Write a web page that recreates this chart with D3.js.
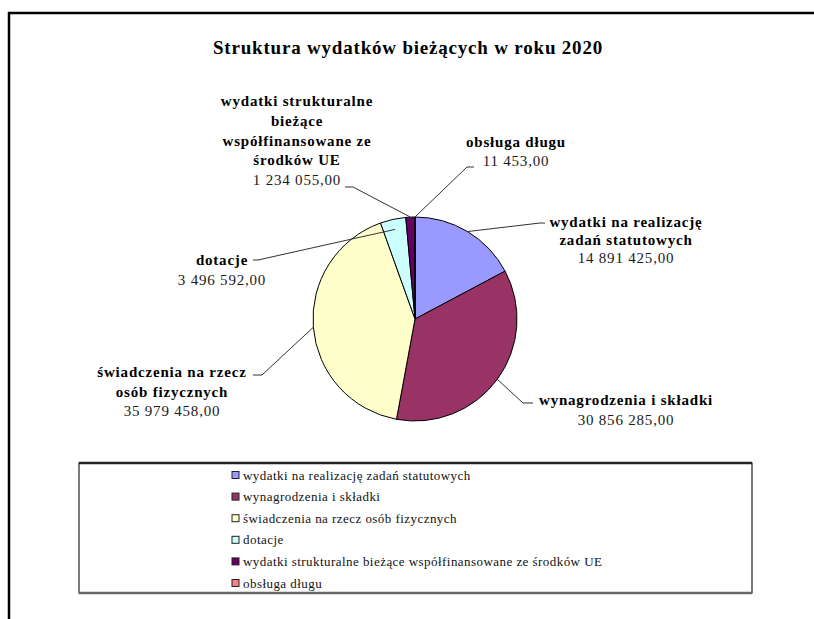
<!DOCTYPE html>
<html><head><meta charset="utf-8">
<script src="https://cdn.jsdelivr.net/npm/d3@7"></script>
<style>
html,body{margin:0;padding:0;background:#fff;}
svg{display:block;}
text{font-family:"Liberation Serif","Times New Roman",serif;}
</style></head>
<body>
<svg id="chart" width="814" height="619"></svg>
<script>
const title = "Struktura wydatków bieżących w roku 2020";
const categories = [
  "wydatki na realizację zadań statutowych",
  "wynagrodzenia i składki",
  "świadczenia na rzecz osób fizycznych",
  "dotacje",
  "wydatki strukturalne bieżące współfinansowane ze środków UE",
  "obsługa długu"
];
const values = [14891425.00, 30856285.00, 35979458.00, 3496592.00, 1234055.00, 11453.00];
const valueLabels = ["14 891 425,00", "30 856 285,00", "35 979 458,00", "3 496 592,00", "1 234 055,00", "11 453,00"];
const labelLines = [
  ["wydatki na  realizację", "zadań statutowych"],
  ["wynagrodzenia i składki"],
  ["świadczenia na  rzecz", "osób fizycznych"],
  ["dotacje"],
  ["wydatki strukturalne", "bieżące", "współfinansowane ze", "środków UE"],
  ["obsługa długu"]
];
const colors = ["#9999FF", "#993366", "#FFFFCC", "#CCFFFF", "#660066", "#FF8080"];

// layout of data labels (positions only)
const labelLayout = [
  {cx: 626, y: 222, step: 18, elbow: [540, 223], end: [545, 223], rf: 1},
  {cx: 626, y: 400, step: 20, elbow: [523, 403], end: [533, 403], rf: 1},
  {cx: 172, y: 372, step: 19.5, elbow: [262, 375], end: [253, 375], rf: 1},
  {cx: 222, y: 260, step: 20, elbow: [258, 260], end: [253, 260], rf: 0.9},
  {cx: 297, y: 101, step: 19.7, elbow: [353, 187], end: [345, 187], rf: 1},
  {cx: 516, y: 142, step: 19, elbow: [467, 167], end: [474, 167], rf: 1}
];

const svg = d3.select("#chart");

// outer frame (only top and left visible)
svg.append("line").attr("x1", 8).attr("y1", 13).attr("x2", 814).attr("y2", 13)
  .attr("stroke", "#000").attr("stroke-width", 2.5);
svg.append("line").attr("x1", 9).attr("y1", 12).attr("x2", 9).attr("y2", 619)
  .attr("stroke", "#000").attr("stroke-width", 2.5);

// title
svg.append("text").attr("x", 408).attr("y", 47).attr("dy", "0.35em")
  .attr("text-anchor", "middle").attr("font-weight", "bold").attr("font-size", 19)
  .attr("letter-spacing", 0.8)
  .text(title);

// pie
const cx = 415, cy = 319, r = 102;
const pie = d3.pie().sort(null).value(d => d).startAngle(0).endAngle(2 * Math.PI);
const arcs = pie(values);
const arc = d3.arc().innerRadius(0).outerRadius(r);
const g = svg.append("g").attr("transform", `translate(${cx},${cy})`);
g.selectAll("path").data(arcs).join("path")
  .attr("d", arc)
  .attr("fill", (d, i) => colors[i])
  .attr("stroke", "#000").attr("stroke-width", 1);

// leader lines + labels
arcs.forEach((a, i) => {
  const L = labelLayout[i];
  const mid = (a.startAngle + a.endAngle) / 2;
  const sx = cx + Math.sin(mid) * r * L.rf;
  const sy = cy - Math.cos(mid) * r * L.rf;
  svg.append("polyline")
    .attr("points", [[sx, sy], L.elbow, L.end].map(p => p.join(",")).join(" "))
    .attr("fill", "none").attr("stroke", "#333").attr("stroke-width", 1);
  const t = svg.append("text").attr("text-anchor", "middle").attr("font-size", 15)
    .attr("letter-spacing", 0.8).attr("fill", "#000");
  labelLines[i].forEach((ln, j) => {
    t.append("tspan").attr("x", L.cx).attr("y", L.y + j * L.step).attr("dy", "0.35em")
      .attr("font-weight", "bold").text(ln);
  });
  t.append("tspan").attr("x", L.cx).attr("y", L.y + labelLines[i].length * L.step).attr("dy", "0.35em")
    .attr("fill", "#1a1a1a").text(valueLabels[i]);
});

// legend
const lx0 = 79, lx1 = 752, ly0 = 463, ly1 = 593;
svg.append("rect").attr("x", lx0).attr("y", ly0).attr("width", lx1 - lx0).attr("height", ly1 - ly0)
  .attr("fill", "#fff").attr("stroke", "#222").attr("stroke-width", 1.2);
svg.append("line").attr("x1", lx0).attr("x2", lx1).attr("y1", ly0).attr("y2", ly0)
  .attr("stroke", "#222").attr("stroke-width", 2.5);
svg.append("line").attr("x1", lx0).attr("x2", lx1).attr("y1", ly1).attr("y2", ly1)
  .attr("stroke", "#666").attr("stroke-width", 2.5);
const ly = d3.scalePoint().domain(categories).range([475, 583]);
const lg = svg.append("g");
categories.forEach((c, i) => {
  const y = ly(c);
  lg.append("rect").attr("x", 232).attr("y", y - 3.5).attr("width", 7).attr("height", 7)
    .attr("fill", colors[i]).attr("stroke", "#222").attr("stroke-width", 1);
  lg.append("text").attr("x", 243).attr("y", y).attr("dy", "0.35em")
    .attr("font-size", 13).attr("letter-spacing", 0.45).attr("fill", "#111").text(c);
});
</script>
</body></html>
